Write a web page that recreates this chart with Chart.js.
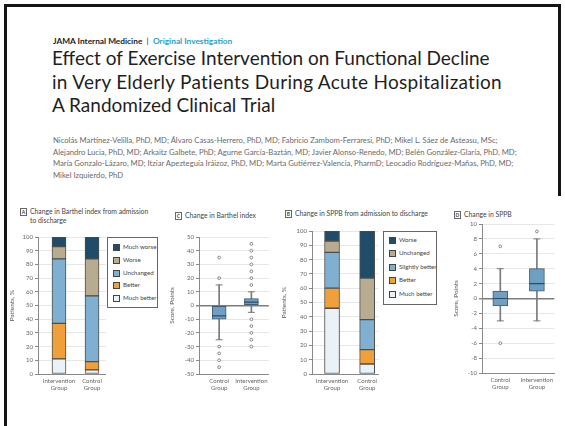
<!DOCTYPE html>
<html>
<head>
<meta charset="utf-8">
<script src="https://cdn.jsdelivr.net/npm/chart.js@4.4.1/dist/chart.umd.min.js"></script>
<style>
  html, body { margin: 0; padding: 0; background: #fff; }
  #page { position: relative; width: 565px; height: 426px; overflow: hidden; background: #fff; font-family: Lato, "Open Sans", sans-serif; }
  .rule { position: absolute; background: #141414; }
  .txt { position: absolute; white-space: nowrap; }
  .journal { left: 53px; top: 36px; font-size: 8.3px; color: #222; }
  .journal b { font-weight: 700; }
  .journal .sec { color: #2a9fc7; font-weight: 700; }
  .title { left: 52px; top: 46px; font-size: 19px; line-height: 23.5px; color: #1f1f1f; }
  .title .wide { letter-spacing: 0.28px; }
  .authors { left: 53px; top: 135px; font-size: 7.7px; line-height: 11.6px; color: #6a6a6a; }
  .panel { font-size: 6.8px; line-height: 9px; color: #444; }
  .tag { display: inline-block; width: 5px; height: 6px; line-height: 6px; border: 1px solid #666; font-size: 5px; font-weight: 700; text-align: center; margin-right: 3px; vertical-align: middle; }
  .legend { position: absolute; border: 1px solid #666; background: #fff; box-sizing: border-box; }
  .legend .item { position: absolute; left: 5px; font-size: 6.2px; color: #444; white-space: nowrap; line-height: 8px; }
  .legend .sw { display: inline-block; width: 7px; height: 7px; box-sizing: border-box; border: 1px solid #444; vertical-align: middle; margin-right: 3px; }
  canvas { position: absolute; }
</style>
</head>
<body>
<div id="page">
  <div class="rule" style="left:4px; top:4px; width:3px; height:422px;"></div>
  <div class="rule" style="left:4px; top:4px; width:557px; height:3px;"></div>
  <div class="rule" style="left:558px; top:4px; width:3px; height:192px;"></div>

  <div class="txt journal"><b>JAMA Internal Medicine</b> &nbsp;|&nbsp; <span class="sec">Original Investigation</span></div>
  <div class="txt title">Effect of Exercise Intervention on Functional Decline<br><span class="wide">in Very Elderly Patients During Acute Hospitalization</span><br>A Randomized Clinical Trial</div>
  <div class="txt authors">Nicolás Martínez-Velilla, PhD, MD; Álvaro Casas-Herrero, PhD, MD; Fabricio Zambom-Ferraresi, PhD; Mikel L. Sáez de Asteasu, MSc;<br>Alejandro Lucia, PhD, MD; Arkaitz Galbete, PhD; Agurne García-Baztán, MD; Javier Alonso-Renedo, MD; Belén González-Glaría, PhD, MD;<br>María Gonzalo-Lázaro, MD; Itziar Apezteguía Iráizoz, PhD, MD; Marta Gutiérrez-Valencia, PharmD; Leocadio Rodríguez-Mañas, PhD, MD;<br>Mikel Izquierdo, PhD</div>

  <div class="txt panel" style="left:20px; top:207px;"><span class="tag">A</span>Change in Barthel index from admission<br><span style="padding-left:10px">to discharge</span></div>
  <div class="txt panel" style="left:175px; top:211px;"><span class="tag">C</span>Change in Barthel index</div>
  <div class="txt panel" style="left:285px; top:209px;"><span class="tag">B</span>Change in SPPB from admission to discharge</div>
  <div class="txt panel" style="left:454px; top:210px;"><span class="tag">D</span>Change in SPPB</div>

  <canvas id="chartA" width="98" height="174" style="left:8px; top:226px;"></canvas>
  <canvas id="chartC" width="109" height="174" style="left:168px; top:226px;"></canvas>
  <canvas id="chartB" width="100" height="178" style="left:280px; top:222px;"></canvas>
  <canvas id="chartD" width="111" height="185" style="left:452px; top:214px;"></canvas>

  <div class="legend" id="legendA" style="left:107px; top:237px; width:51px; height:71px;"></div>
  <div class="legend" id="legendB" style="left:383px; top:231px; width:54px; height:74px;"></div>
</div>

<script>
// ---- Barthel index, change from admission to discharge (% of patients) ----
const barthelGroups = ['Intervention Group', 'Control Group'];
const barthelCategories = ['Much better', 'Better', 'Unchanged', 'Worse', 'Much worse'];
const barthelIntervention = [11, 26, 47, 9, 7];
const barthelControl = [3, 6, 48, 27, 16];

// ---- SPPB, change from admission to discharge (% of patients) ----
const sppbGroups = ['Intervention Group', 'Control Group'];
const sppbCategories = ['Much better', 'Better', 'Slightly better', 'Unchanged', 'Worse'];
const sppbIntervention = [46, 14, 25, 8, 7];
const sppbControl = [7, 10, 21, 29, 33];

// ---- Change in Barthel index, score points (box plot) ----
const barthelBoxGroups = ['Control Group', 'Intervention Group'];
const barthelBoxMin = [-25, -5];
const barthelBoxQ1 = [-10, 0];
const barthelBoxMedian = [-7.5, 2.5];
const barthelBoxQ3 = [0, 5];
const barthelBoxMax = [15, 10];
const barthelOutliers = [
  [35, 20, -30, -35, -40, -45],
  [45, 40, 35, 30, 25, 20, 15, -10, -15, -20, -25, -30]
];

// ---- Change in SPPB, score points (box plot) ----
const sppbBoxGroups = ['Control Group', 'Intervention Group'];
const sppbBoxMin = [-3, -3];
const sppbBoxQ1 = [-1, 1];
const sppbBoxMedian = [0, 2];
const sppbBoxQ3 = [1, 4];
const sppbBoxMax = [4, 8];
const sppbOutliers = [
  [7, -6],
  [9]
];

// ---- tick values ----
const percentTicks = [0, 10, 20, 30, 40, 50, 60, 70, 80, 90, 100];
const barthelScoreTicks = [-50, -40, -30, -20, -10, 0, 10, 20, 30, 40, 50];
const sppbScoreTicks = [-10, -8, -6, -4, -2, 0, 2, 4, 6, 8, 10];

// ---- styling ----
const outcomeColors = {
  'Much better': '#eaf2f8',
  'Better': '#f0a03a',
  'Unchanged': '#7fb0d2',
  'Worse': '#b7ab90',
  'Much worse': '#1f4c68'
};
const sppbColors = {
  'Much better': '#eaf2f8',
  'Better': '#f0a03a',
  'Slightly better': '#7fb0d2',
  'Unchanged': '#b7ab90',
  'Worse': '#1f4c68'
};

Chart.defaults.font.family = 'Lato, "Open Sans", sans-serif';
Chart.defaults.animation = false;
Chart.defaults.responsive = false;
Chart.defaults.plugins.legend.display = false;
Chart.defaults.plugins.tooltip.enabled = false;

const tickFont = { size: 6 };
const tickColor = '#666';

function splitLabel(text) { return text.split(' '); }

function xScale(groups, min, max) {
  return {
    type: 'linear', min: min, max: max, offset: false, stacked: true,
    afterBuildTicks: s => { s.ticks = groups.map((g, i) => ({ value: i })); },
    afterFit: s => { s.height = 26; },
    ticks: { font: tickFont, color: tickColor, padding: 3, maxRotation: 0,
             callback: v => splitLabel(groups[v]) },
    grid: { display: false, offset: false, drawTicks: false },
    border: { display: true, color: '#8a8a8a', width: 1 }
  };
}

function yScale(ticks, title, width, zeroLine) {
  const step = ticks[1] - ticks[0];
  return {
    type: 'linear', min: ticks[0], max: ticks[ticks.length - 1],
    afterFit: s => { s.width = width; },
    afterBuildTicks: s => { s.ticks = ticks.map(v => ({ value: v })); },
    ticks: { font: tickFont, color: tickColor, padding: 2, stepSize: step },
    title: { display: true, text: title, font: { size: 6.5 }, color: '#555', padding: 0 },
    grid: {
      color: c => (zeroLine && c.tick && c.tick.value === 0) ? '#7d7d7d' : '#e7e7e7',
      lineWidth: c => (zeroLine && c.tick && c.tick.value === 0) ? 1.5 : 1,
      tickLength: 3, tickColor: '#8a8a8a'
    },
    border: { display: true, color: '#8a8a8a', width: 1 }
  };
}

function stackedChart(id, groups, categories, seriesByGroup, colors, opts) {
  const datasets = categories.map((cat, ci) => ({
    label: cat,
    data: groups.map((g, gi) => ({ x: gi, y: seriesByGroup[gi][ci] })),
    backgroundColor: colors[cat],
    borderColor: '#4d4d4d',
    borderWidth: 1,
    borderSkipped: false,
    barThickness: opts.barWidth
  }));
  const y = yScale(percentTicks, 'Patients, %', opts.axisWidth, false);
  y.stacked = true;
  return new Chart(document.getElementById(id), {
    type: 'bar',
    data: { datasets },
    options: {
      layout: { padding: { top: opts.padTop, right: 0, left: 0, bottom: 0 } },
      scales: { x: xScale(groups, opts.xMin, opts.xMax), y: y }
    }
  });
}

function boxChart(id, groups, mins, q1s, meds, q3s, maxs, outliers, ticks, opts) {
  const idx = groups.map((g, i) => i);
  const datasets = [
    { type: 'bar', label: 'range', order: 5, grouped: false,
      data: idx.map(i => ({ x: i, y: [mins[i], maxs[i]] })),
      backgroundColor: '#7a7a7a', borderWidth: 0, barThickness: 1 },
    { type: 'bar', label: 'IQR', order: 4, grouped: false,
      data: idx.map(i => ({ x: i, y: [q1s[i], q3s[i]] })),
      backgroundColor: '#6f9fc2', borderColor: '#3f5d73', borderWidth: 1,
      borderSkipped: false, barThickness: opts.boxWidth },
    { type: 'line', label: 'median', order: 3, showLine: false,
      data: idx.map(i => ({ x: i, y: meds[i] })),
      pointStyle: 'line', pointRadius: opts.boxWidth / 2, pointBorderWidth: 1.2,
      pointBorderColor: '#2c4a60' },
    { type: 'line', label: 'whisker caps', order: 2, showLine: false,
      data: idx.flatMap(i => [{ x: i, y: mins[i] }, { x: i, y: maxs[i] }]),
      pointStyle: 'line', pointRadius: 3.5, pointBorderWidth: 1,
      pointBorderColor: '#7a7a7a' },
    { type: 'line', label: 'outliers', order: 1, showLine: false,
      data: idx.flatMap(i => outliers[i].map(v => ({ x: i, y: v }))),
      pointStyle: 'circle', pointRadius: 1.4, pointBorderWidth: 0.8,
      pointBorderColor: '#6d6d6d', pointBackgroundColor: '#ffffff' }
  ];
  const x = xScale(groups, opts.xMin, opts.xMax);
  x.stacked = false;
  return new Chart(document.getElementById(id), {
    type: 'bar',
    data: { datasets },
    options: {
      layout: { padding: { top: opts.padTop, right: 0, left: 0, bottom: 0 } },
      scales: { x: x, y: yScale(ticks, 'Score, Points', opts.axisWidth, true) }
    }
  });
}

function buildLegend(id, categories, colors, top0, step) {
  const box = document.getElementById(id);
  categories.slice().reverse().forEach((cat, i) => {
    const item = document.createElement('div');
    item.className = 'item';
    item.style.top = (top0 + i * step) + 'px';
    item.innerHTML = '<span class="sw" style="background:' + colors[cat] + '"></span>' + cat;
    box.appendChild(item);
  });
}

stackedChart('chartA', barthelGroups, barthelCategories,
  [barthelIntervention, barthelControl], outcomeColors,
  { barWidth: 14, axisWidth: 30, padTop: 11, xMin: -0.636, xMax: 1.424 });

stackedChart('chartB', sppbGroups, sppbCategories,
  [sppbIntervention, sppbControl], sppbColors,
  { barWidth: 15, axisWidth: 32, padTop: 9, xMin: -0.57, xMax: 1.32 });

boxChart('chartC', barthelBoxGroups, barthelBoxMin, barthelBoxQ1, barthelBoxMedian,
  barthelBoxQ3, barthelBoxMax, barthelOutliers, barthelScoreTicks,
  { boxWidth: 14, axisWidth: 31, padTop: 11, xMin: -0.625, xMax: 1.54 });

boxChart('chartD', sppbBoxGroups, sppbBoxMin, sppbBoxQ1, sppbBoxMedian,
  sppbBoxQ3, sppbBoxMax, sppbOutliers, sppbScoreTicks,
  { boxWidth: 15, axisWidth: 30, padTop: 10, xMin: -0.5, xMax: 1.475 });

buildLegend('legendA', barthelCategories, outcomeColors, 5, 12.8);
buildLegend('legendB', sppbCategories, sppbColors, 4, 13.4);
</script>
</body>
</html>
